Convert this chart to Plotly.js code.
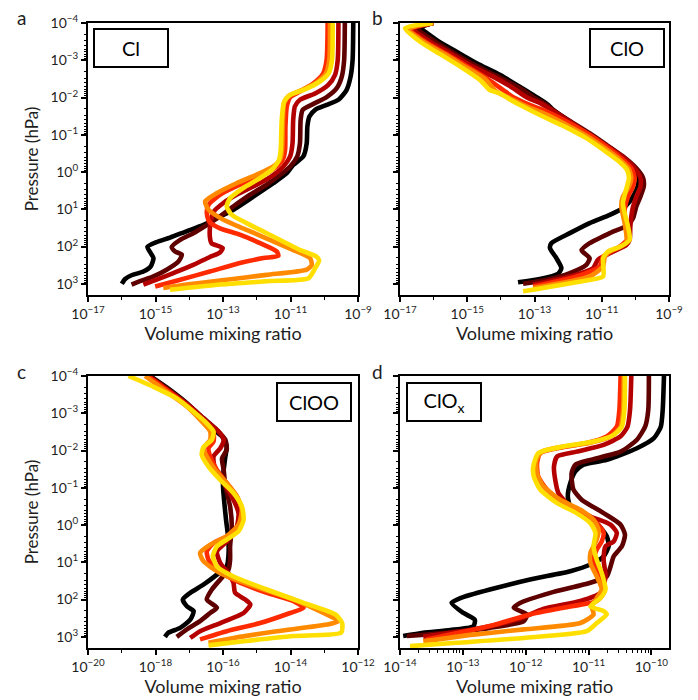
<!DOCTYPE html>
<html>
<head>
<meta charset="utf-8">
<script src="https://cdn.plot.ly/plotly-3.0.1.min.js"></script>
<style>
  html, body { margin: 0; padding: 0; background: #ffffff; }
  #chart { width: 698px; height: 700px; }
</style>
</head>
<body>
<div id="chart"></div>
<script>
// Vertical profiles: log10(pressure / hPa) and log10(volume mixing ratio),
// six model cases per species, from black (coolest case) to yellow.

// ---- Cl ----
const cl_black_logp = [-4.0, -3.01, -2.56, -2.20, -1.94, -1.80, -1.67, -1.49, -1.22, -0.77, -0.42, -0.19, 0.03, 0.30, 0.66, 1.01, 1.24, 1.42, 1.59, 1.76, 1.88, 2.01, 2.18, 2.31, 2.53, 2.67, 2.77, 2.87, 3.00];
const cl_black_logvmr = [-9.14, -9.16, -9.22, -9.34, -9.58, -9.93, -10.27, -10.44, -10.50, -10.52, -10.62, -10.92, -11.11, -11.51, -12.10, -12.69, -13.19, -13.58, -14.08, -14.57, -14.97, -15.24, -15.14, -15.06, -15.14, -15.36, -15.71, -15.90, -16.00];
const cl_maroon_logp = [-4.0, -3.01, -2.56, -2.25, -2.01, -1.83, -1.67, -1.40, -0.77, -0.42, -0.15, 0.08, 0.34, 0.61, 0.92, 1.19, 1.42, 1.64, 1.82, 2.01, 2.13, 2.22, 2.40, 2.62, 2.80, 2.93, 3.02];
const cl_maroon_logvmr = [-9.39, -9.41, -9.48, -9.63, -9.93, -10.32, -10.64, -10.70, -10.72, -10.80, -11.01, -11.31, -11.71, -12.20, -12.69, -13.09, -13.48, -13.88, -14.27, -14.52, -14.42, -14.22, -14.32, -14.67, -15.06, -15.46, -15.71];
const cl_crimson_logp = [-4.0, -3.01, -2.61, -2.34, -2.11, -1.94, -1.76, -1.40, -0.77, -0.42, -0.15, 0.08, 0.34, 0.61, 0.83, 1.06, 1.37, 1.73, 1.91, 2.04, 2.16, 2.28, 2.49, 2.71, 2.89, 3.02];
const cl_crimson_logvmr = [-9.58, -9.60, -9.68, -9.88, -10.27, -10.72, -10.87, -10.92, -10.94, -11.01, -11.21, -11.51, -12.00, -12.60, -12.99, -13.27, -13.37, -13.39, -13.34, -13.01, -13.09, -13.39, -13.88, -14.47, -14.97, -15.36];
const cl_scarlet_logp = [-4.0, -3.01, -2.65, -2.38, -2.16, -2.01, -1.76, -1.22, -0.60, -0.33, -0.15, 0.08, 0.34, 0.61, 0.88, 1.10, 1.33, 1.51, 1.68, 1.91, 2.13, 2.25, 2.31, 2.44, 2.67, 2.89, 3.07];
const cl_scarlet_logvmr = [-9.90, -9.93, -10.03, -10.32, -10.72, -11.01, -11.11, -11.15, -11.16, -11.23, -11.41, -11.80, -12.50, -13.09, -13.43, -13.48, -13.41, -13.09, -12.50, -11.90, -11.41, -11.36, -11.80, -12.50, -13.39, -14.27, -15.01];
const cl_orange_logp = [-4.0, -3.01, -2.65, -2.40, -2.20, -2.04, -1.85, -1.22, -0.60, -0.33, -0.15, 0.03, 0.30, 0.57, 0.79, 1.01, 1.28, 1.55, 1.86, 2.13, 2.31, 2.49, 2.62, 2.76, 2.91, 3.02, 3.11];
const cl_orange_logvmr = [-9.83, -9.85, -9.95, -10.23, -10.67, -11.06, -11.19, -11.23, -11.25, -11.31, -11.51, -11.90, -12.60, -13.19, -13.53, -13.43, -12.99, -12.30, -11.51, -10.82, -10.42, -10.37, -10.52, -11.71, -13.09, -14.08, -14.77];
const cl_yellow_logp = [-4.0, -3.01, -2.65, -2.43, -2.22, -2.07, -1.89, -1.40, -0.60, -0.33, -0.10, 0.16, 0.43, 0.70, 0.92, 1.15, 1.37, 1.73, 2.09, 2.27, 2.37, 2.58, 2.85, 2.93, 3.02, 3.16];
const cl_yellow_logvmr = [-9.75, -9.77, -9.87, -10.13, -10.57, -11.01, -11.19, -11.26, -11.29, -11.34, -11.51, -11.90, -12.40, -12.79, -12.89, -12.74, -12.30, -11.51, -10.72, -10.23, -10.15, -10.27, -10.47, -11.71, -13.09, -14.57];

// ---- ClO ----
const clo_black_logp = [-4.0, -3.88, -3.54, -3.23, -2.92, -2.61, -2.29, -2.01, -1.80, -1.67, -1.35, -1.00, -0.68, -0.37, -0.10, 0.12, 0.34, 0.57, 0.79, 0.97, 1.15, 1.37, 1.64, 1.91, 2.04, 2.31, 2.58, 2.73, 2.87, 2.96];
const clo_black_logvmr = [-16.03, -16.36, -15.91, -15.32, -14.72, -14.03, -13.44, -12.94, -12.59, -12.45, -11.95, -11.36, -10.86, -10.42, -10.07, -9.92, -9.92, -10.02, -10.17, -10.37, -10.76, -11.36, -11.95, -12.50, -12.54, -12.35, -12.20, -12.30, -12.84, -13.49];
const clo_maroon_logp = [-4.0, -3.86, -3.53, -3.20, -2.89, -2.58, -2.28, -2.01, -1.80, -1.67, -1.37, -1.04, -0.73, -0.42, -0.10, 0.16, 0.39, 0.66, 0.92, 1.24, 1.42, 1.64, 1.91, 2.10, 2.31, 2.49, 2.71, 2.89, 3.00];
const clo_maroon_logvmr = [-16.01, -16.50, -16.01, -15.42, -14.82, -14.13, -13.49, -13.04, -12.64, -12.45, -11.95, -11.36, -10.86, -10.37, -9.97, -9.77, -9.75, -9.85, -9.97, -10.07, -10.22, -10.76, -11.36, -11.60, -11.36, -11.46, -11.95, -12.64, -13.34];
const clo_crimson_logp = [-4.0, -3.85, -3.50, -3.19, -2.87, -2.56, -2.25, -2.01, -1.83, -1.67, -1.35, -0.99, -0.71, -0.40, -0.10, 0.16, 0.39, 0.66, 1.01, 1.46, 1.82, 1.96, 2.18, 2.35, 2.58, 2.80, 3.02];
const clo_crimson_logvmr = [-16.01, -16.60, -16.11, -15.51, -14.92, -14.23, -13.63, -13.24, -12.79, -12.50, -11.95, -11.36, -10.86, -10.37, -10.02, -9.85, -9.85, -9.97, -10.09, -10.15, -10.17, -10.27, -10.76, -11.11, -11.26, -11.95, -13.04];
const clo_scarlet_logp = [-4.0, -3.84, -3.48, -3.17, -2.85, -2.52, -2.20, -2.01, -1.80, -1.62, -1.31, -1.00, -0.68, -0.37, -0.10, 0.16, 0.39, 0.66, 1.01, 1.46, 1.82, 2.00, 2.27, 2.53, 2.80, 3.07];
const clo_scarlet_logvmr = [-16.01, -16.70, -16.21, -15.61, -15.02, -14.43, -13.93, -13.63, -13.14, -12.64, -11.95, -11.36, -10.86, -10.42, -10.12, -10.02, -10.07, -10.22, -10.32, -10.29, -10.25, -10.47, -10.96, -11.06, -11.75, -13.04];
const clo_orange_logp = [-4.0, -3.84, -3.47, -3.16, -2.83, -2.50, -2.16, -1.98, -1.76, -1.58, -1.27, -0.95, -0.64, -0.34, -0.08, 0.16, 0.39, 0.66, 0.92, 1.37, 1.91, 2.13, 2.27, 2.53, 2.80, 3.11];
const clo_orange_logvmr = [-16.01, -16.75, -16.26, -15.66, -15.07, -14.48, -14.13, -13.73, -13.24, -12.74, -12.05, -11.41, -10.91, -10.47, -10.19, -10.12, -10.19, -10.37, -10.42, -10.32, -10.27, -10.76, -10.91, -10.96, -11.36, -13.04];
const clo_yellow_logp = [-4.0, -3.86, -3.47, -3.14, -2.81, -2.47, -2.20, -2.11, -1.95, -1.76, -1.53, -1.22, -0.91, -0.60, -0.31, -0.06, 0.16, 0.39, 0.83, 1.10, 1.46, 1.82, 2.01, 2.13, 2.31, 2.80, 2.91, 3.20];
const clo_yellow_logvmr = [-16.03, -16.85, -16.36, -15.76, -15.17, -14.62, -14.33, -14.03, -13.73, -13.34, -12.84, -12.10, -11.46, -10.96, -10.52, -10.25, -10.19, -10.25, -10.37, -10.32, -10.22, -10.17, -10.47, -10.81, -10.96, -10.96, -11.46, -13.34];

// ---- ClOO ----
const cloo_black_logp = [-4.0, -3.63, -3.27, -2.91, -2.60, -2.38, -2.11, -1.84, -1.48, -1.04, -0.59, -0.14, 0.39, 0.84, 1.11, 1.33, 1.60, 1.82, 2.00, 2.18, 2.31, 2.54, 2.76, 2.89, 3.00];
const cloo_black_logvmr = [-18.16, -17.57, -17.07, -16.68, -16.33, -16.03, -15.89, -15.93, -15.98, -16.00, -15.96, -15.91, -15.84, -15.84, -15.89, -16.18, -16.58, -16.97, -17.19, -17.07, -16.87, -16.97, -17.27, -17.62, -17.72];
const cloo_maroon_logp = [-4.0, -3.61, -3.22, -2.87, -2.55, -2.29, -2.02, -1.79, -1.48, -1.04, -0.50, 0.04, 0.57, 0.93, 1.20, 1.46, 1.73, 2.00, 2.22, 2.36, 2.58, 2.80, 3.00];
const cloo_maroon_logvmr = [-18.18, -17.57, -17.02, -16.58, -16.18, -15.93, -15.89, -16.03, -15.98, -15.93, -15.79, -15.74, -15.79, -15.79, -15.84, -16.08, -16.33, -16.48, -16.18, -16.38, -16.68, -17.07, -17.37];
const cloo_crimson_logp = [-4.0, -3.58, -3.18, -2.78, -2.51, -2.29, -2.06, -1.84, -1.48, -1.13, -0.68, -0.32, 0.04, 0.44, 0.71, 1.02, 1.29, 1.55, 1.82, 2.00, 2.13, 2.36, 2.63, 2.85, 3.03];
const cloo_crimson_logvmr = [-18.21, -17.57, -16.97, -16.48, -16.13, -15.98, -16.08, -16.28, -16.23, -15.98, -15.69, -15.54, -15.59, -15.89, -16.18, -16.08, -15.84, -15.69, -15.64, -15.34, -15.19, -15.39, -16.08, -16.68, -16.97];
const cloo_scarlet_logp = [-4.0, -3.56, -3.13, -2.73, -2.46, -2.24, -2.06, -1.84, -1.48, -1.13, -0.77, -0.41, -0.05, 0.26, 0.48, 0.71, 0.93, 1.20, 1.51, 1.82, 2.04, 2.22, 2.36, 2.63, 2.85, 3.07];
const cloo_scarlet_logvmr = [-18.24, -17.57, -16.97, -16.53, -16.28, -16.28, -16.43, -16.38, -16.18, -15.89, -15.59, -15.44, -15.49, -15.79, -16.28, -16.48, -16.43, -16.18, -15.59, -14.70, -13.91, -13.61, -14.01, -14.90, -15.89, -16.68];
const cloo_orange_logp = [-4.0, -3.58, -3.18, -2.78, -2.51, -2.29, -2.06, -1.84, -1.48, -1.13, -0.77, -0.41, -0.01, 0.30, 0.53, 0.75, 0.97, 1.29, 1.64, 2.00, 2.36, 2.58, 2.67, 2.85, 3.03, 3.16];
const cloo_orange_logvmr = [-18.31, -17.67, -17.07, -16.63, -16.38, -16.38, -16.58, -16.48, -16.23, -15.89, -15.59, -15.44, -15.54, -15.89, -16.38, -16.68, -16.58, -16.08, -15.09, -13.91, -13.02, -12.57, -12.92, -14.40, -15.69, -16.43];
const cloo_yellow_logp = [-4.0, -3.71, -3.40, -3.04, -2.73, -2.51, -2.29, -2.09, -1.88, -1.57, -1.21, -0.86, -0.50, -0.14, 0.17, 0.39, 0.57, 0.84, 1.11, 1.38, 1.73, 2.09, 2.40, 2.63, 2.89, 2.98, 3.12, 3.23];
const cloo_yellow_logvmr = [-18.80, -18.06, -17.37, -16.87, -16.48, -16.28, -16.33, -16.58, -16.63, -16.43, -16.08, -15.69, -15.44, -15.39, -15.54, -15.89, -16.18, -16.30, -16.18, -15.69, -14.70, -13.61, -12.67, -12.47, -12.50, -13.91, -15.39, -16.43];

// ---- ClOx ----
const clox_black_logp = [-4.0, -3.09, -2.64, -2.33, -2.06, -1.75, -1.62, -1.44, -1.13, -0.77, -0.50, -0.32, -0.05, 0.30, 0.57, 0.84, 1.06, 1.24, 1.46, 1.73, 1.96, 2.09, 2.36, 2.54, 2.71, 2.82, 2.89, 2.98];
const clox_black_logvmr = [-9.80, -9.82, -9.85, -9.96, -10.23, -10.71, -11.08, -11.21, -11.29, -11.33, -11.29, -11.08, -10.87, -10.71, -10.68, -10.76, -10.97, -11.29, -11.93, -12.57, -13.04, -13.18, -12.99, -12.81, -12.83, -13.20, -13.63, -13.95];
const clox_maroon_logp = [-4.0, -3.09, -2.64, -2.29, -1.97, -1.75, -1.62, -1.39, -0.95, -0.68, -0.32, -0.01, 0.26, 0.57, 0.84, 1.11, 1.38, 1.55, 1.82, 2.09, 2.22, 2.40, 2.58, 2.76, 2.89, 2.98];
const clox_maroon_logvmr = [-10.04, -10.05, -10.10, -10.23, -10.49, -10.97, -11.21, -11.27, -11.24, -11.11, -10.76, -10.49, -10.42, -10.47, -10.60, -10.65, -10.71, -10.97, -11.61, -12.09, -12.19, -11.98, -12.03, -12.57, -13.26, -13.89];
const clox_crimson_logp = [-4.0, -3.09, -2.64, -2.38, -2.15, -1.97, -1.84, -1.57, -1.21, -0.86, -0.50, -0.23, -0.01, 0.21, 0.44, 0.57, 0.93, 1.38, 1.82, 2.04, 2.25, 2.54, 2.80, 3.00];
const clox_crimson_logvmr = [-10.32, -10.34, -10.38, -10.49, -10.76, -11.19, -11.50, -11.55, -11.53, -11.48, -11.29, -10.97, -10.65, -10.55, -10.60, -10.73, -10.76, -10.73, -10.81, -11.13, -11.72, -12.14, -12.83, -13.63];
const clox_scarlet_logp = [-4.0, -3.09, -2.64, -2.38, -2.20, -2.06, -1.93, -1.66, -1.30, -0.95, -0.59, -0.32, -0.05, 0.21, 0.44, 0.66, 0.93, 1.38, 1.82, 2.04, 2.22, 2.40, 2.71, 3.07];
const clox_scarlet_logvmr = [-10.49, -10.51, -10.55, -10.71, -11.03, -11.50, -11.77, -11.82, -11.80, -11.66, -11.40, -11.08, -10.87, -10.76, -10.79, -10.87, -10.92, -10.84, -10.76, -10.87, -11.40, -11.93, -12.57, -13.58];
const clox_orange_logp = [-4.0, -3.09, -2.64, -2.39, -2.21, -2.09, -1.97, -1.75, -1.39, -1.04, -0.68, -0.41, -0.14, 0.13, 0.39, 0.75, 1.02, 1.38, 1.73, 1.96, 2.18, 2.40, 2.63, 2.80, 2.94, 3.12];
const clox_orange_logvmr = [-10.44, -10.45, -10.49, -10.63, -10.97, -11.45, -11.74, -11.83, -11.82, -11.72, -11.45, -11.13, -10.92, -10.84, -10.87, -10.97, -10.97, -10.87, -10.79, -10.87, -10.95, -10.92, -11.13, -12.03, -12.83, -13.63];
const clox_yellow_logp = [-4.0, -3.09, -2.64, -2.42, -2.24, -2.11, -1.93, -1.57, -1.30, -0.95, -0.59, -0.32, -0.05, 0.21, 0.57, 0.93, 1.29, 1.73, 1.96, 2.18, 2.31, 2.40, 2.63, 2.85, 3.03, 3.16, 3.25];
const clox_yellow_logvmr = [-10.42, -10.43, -10.47, -10.60, -10.92, -11.40, -11.80, -11.88, -11.87, -11.77, -11.50, -11.19, -10.97, -10.89, -10.92, -10.87, -10.79, -10.73, -10.81, -10.97, -10.76, -10.71, -10.87, -11.03, -12.03, -13.10, -13.84];

// Line colours, drawn in this order (yellow ends up on top)
const seriesColors = ['#000000', '#5e0000', '#b50000', '#ff2a00', '#ff8a00', '#ffdf00'];

// Species labels shown in the boxes
const speciesLabels = ['Cl', 'ClO', 'ClOO', 'ClO<sub>x</sub>'];
const panelLetters = ['a', 'b', 'c', 'd'];

// Decade exponents for the axes
const pressureDecades = [-4, -3, -2, -1, 0, 1, 2, 3];
const clXMajor = [-17, -15, -13, -11, -9];
const clXMinor = [-16, -14, -12, -10];
const clooXMajor = [-20, -18, -16, -14, -12];
const clooXMinor = [-19, -17, -15, -13];
const cloxXMajor = [-14, -13, -12, -11, -10];

const FONT = 'Lato, "Open Sans", "DejaVu Sans", sans-serif';
const INK = '#1e1e1e';
const W = 698, H = 700;

function pow10(v) { return Math.pow(10, v); }
function sup(e) { return '10<sup>' + (e < 0 ? '\u2212' + (-e) : String(e)) + '</sup>'; }
function subDecades(lo, hi, maxLog) {
  const out = [];
  for (let n = lo; n <= hi; n++) {
    for (let k = 2; k <= 9; k++) {
      const v = k * Math.pow(10, n);
      if (Math.log10(v) < maxLog) out.push(v);
    }
  }
  return out;
}

function profileTraces(profiles, suffix) {
  return profiles.map((pr, i) => ({
    type: 'scatter',
    mode: 'lines',
    x: pr[1].map(pow10),
    y: pr[0].map(pow10),
    xaxis: 'x' + suffix,
    yaxis: 'y' + suffix,
    line: { color: seriesColors[i], width: 4.6, shape: 'spline', smoothing: 0.6 },
    hoverinfo: 'skip',
    showlegend: false
  }));
}

const data = [].concat(
  profileTraces([
    [cl_black_logp, cl_black_logvmr], [cl_maroon_logp, cl_maroon_logvmr],
    [cl_crimson_logp, cl_crimson_logvmr], [cl_scarlet_logp, cl_scarlet_logvmr],
    [cl_orange_logp, cl_orange_logvmr], [cl_yellow_logp, cl_yellow_logvmr]
  ], ''),
  profileTraces([
    [clo_black_logp, clo_black_logvmr], [clo_maroon_logp, clo_maroon_logvmr],
    [clo_crimson_logp, clo_crimson_logvmr], [clo_scarlet_logp, clo_scarlet_logvmr],
    [clo_orange_logp, clo_orange_logvmr], [clo_yellow_logp, clo_yellow_logvmr]
  ], '2'),
  profileTraces([
    [cloo_black_logp, cloo_black_logvmr], [cloo_maroon_logp, cloo_maroon_logvmr],
    [cloo_crimson_logp, cloo_crimson_logvmr], [cloo_scarlet_logp, cloo_scarlet_logvmr],
    [cloo_orange_logp, cloo_orange_logvmr], [cloo_yellow_logp, cloo_yellow_logvmr]
  ], '3'),
  profileTraces([
    [clox_black_logp, clox_black_logvmr], [clox_maroon_logp, clox_maroon_logvmr],
    [clox_crimson_logp, clox_crimson_logvmr], [clox_scarlet_logp, clox_scarlet_logvmr],
    [clox_orange_logp, clox_orange_logvmr], [clox_yellow_logp, clox_yellow_logvmr]
  ], '4')
);

// Panel frames in pixels
const colL = [88 / W, 358 / W];
const colR = [400 / W, 669 / W];
const rowT = [1 - 295 / H, 1 - 23 / H];
const rowB = [1 - 648 / H, 1 - 376 / H];

function baseAxis() {
  return {
    type: 'log',
    showline: true, linecolor: '#000', linewidth: 2, mirror: true,
    showgrid: false, zeroline: false,
    ticks: 'outside', ticklen: 5, tickwidth: 2, tickcolor: '#000',
    tickfont: { family: FONT, size: 14, color: INK },
    tickmode: 'array'
  };
}

function xAxis(domain, anchor, range, majors, minors) {
  return Object.assign(baseAxis(), {
    domain: domain, anchor: anchor, range: range,
    tickvals: majors.map(pow10), ticktext: majors.map(sup),
    minor: { tickmode: 'array', tickvals: minors, ticks: 'outside', ticklen: 3, tickwidth: 1, tickcolor: '#000', showgrid: false },
    title: { text: 'Volume mixing ratio', font: { family: FONT, size: 18, color: INK }, standoff: 6 }
  });
}

function yAxis(domain, anchor, labelled) {
  const ax = Object.assign(baseAxis(), {
    domain: domain, anchor: anchor, range: [3.3, -4],
    tickvals: pressureDecades.map(pow10), ticktext: pressureDecades.map(sup),
    showticklabels: labelled,
    minor: { tickmode: 'array', tickvals: subDecades(-4, 3, 3.3), ticks: 'outside', ticklen: 2.5, tickwidth: 1, tickcolor: '#000', showgrid: false }
  });
  if (labelled) {
    ax.title = { text: 'Pressure (hPa)', font: { family: FONT, size: 17, color: INK }, standoff: 8 };
  }
  return ax;
}

function speciesBox(axisSuffix, x, y, label) {
  return {
    xref: 'x' + axisSuffix + ' domain', yref: 'y' + axisSuffix + ' domain',
    x: x, y: y, xanchor: 'center', yanchor: 'middle',
    text: label, showarrow: false,
    font: { family: FONT, size: 20, color: '#000' },
    bgcolor: '#ffffff', bordercolor: '#000', borderwidth: 2, borderpad: 0,
    width: 72, height: 36
  };
}

function letter(text, px, py) {
  return {
    xref: 'paper', yref: 'paper', x: px / W, y: 1 - py / H,
    xanchor: 'center', yanchor: 'middle', showarrow: false,
    text: text, font: { family: FONT, size: 19, color: INK }
  };
}

const layout = {
  width: W, height: H,
  margin: { l: 0, r: 0, t: 0, b: 0 },
  paper_bgcolor: '#ffffff', plot_bgcolor: '#ffffff',
  font: { family: FONT, color: INK },
  showlegend: false,
  xaxis: xAxis(colL, 'y', [-17, -9], clXMajor, clXMinor.map(pow10)),
  yaxis: yAxis(rowT, 'x', true),
  xaxis2: xAxis(colR, 'y2', [-17, -9], clXMajor, clXMinor.map(pow10)),
  yaxis2: yAxis(rowT, 'x2', false),
  xaxis3: xAxis(colL, 'y3', [-20, -12], clooXMajor, clooXMinor.map(pow10)),
  yaxis3: yAxis(rowB, 'x3', true),
  xaxis4: xAxis(colR, 'y4', [-14, -9.72], cloxXMajor, subDecades(-14, -10, -9.72)),
  yaxis4: yAxis(rowB, 'x4', false),
  annotations: [
    speciesBox('', 0.159, 0.908, speciesLabels[0]),
    speciesBox('2', 0.844, 0.909, speciesLabels[1]),
    speciesBox('3', 0.837, 0.904, speciesLabels[2]),
    speciesBox('4', 0.162, 0.904, speciesLabels[3]),
    letter(panelLetters[0], 21, 18),
    letter(panelLetters[1], 377, 18),
    letter(panelLetters[2], 21, 371),
    letter(panelLetters[3], 377, 371)
  ]
};

Plotly.newPlot('chart', data, layout, { staticPlot: true, displayModeBar: false });
</script>
</body>
</html>
